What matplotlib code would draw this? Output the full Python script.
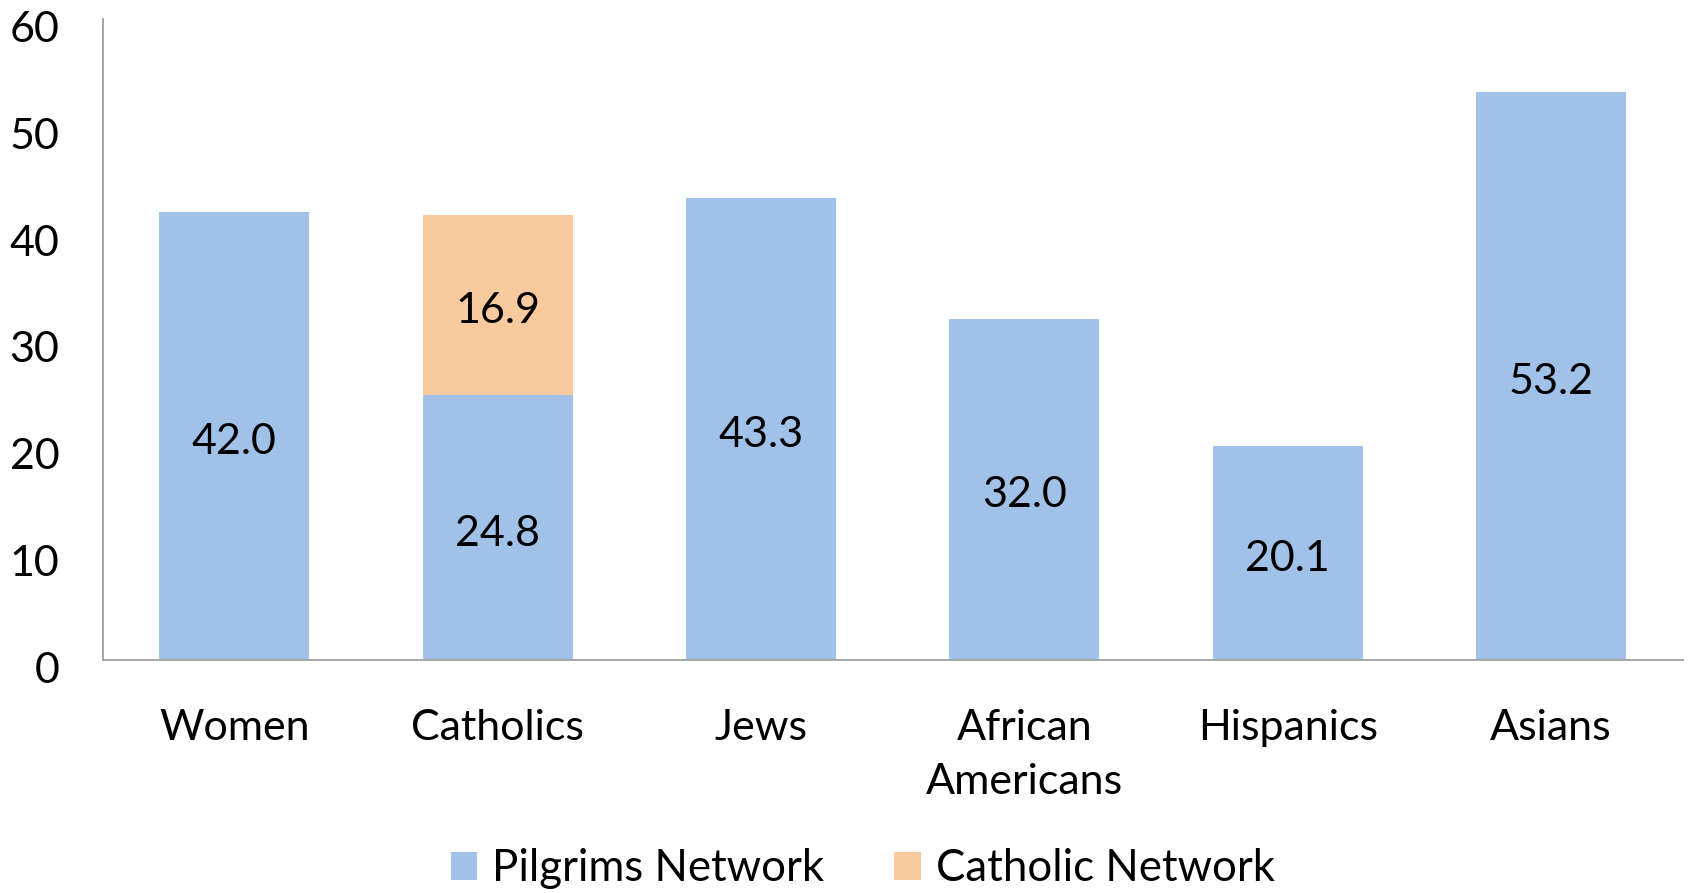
import matplotlib as mpl
import matplotlib.pyplot as plt
import matplotlib.transforms as mtransforms
import numpy as np

mpl.rcParams["font.family"] = ["Lato", "DejaVu Sans"]
mpl.rcParams["font.size"] = 31

groups = ["Women", "Catholics", "Jews", "African\nAmericans", "Hispanics", "Asians"]
pilgrims = [42.0, 24.8, 43.3, 32.0, 20.1, 53.2]
catholic = [0, 16.9, 0, 0, 0, 0]
series_names = ["Pilgrims Network", "Catholic Network"]

blue = "#A0C2E9"
orange = "#FACA9F"
axis_grey = "#A6A6A6"

fig = plt.figure(figsize=(16.92, 8.93), dpi=100)
ax = fig.add_axes([0.0606, 0.2604, 0.934, 0.7179])

x = np.arange(len(groups))
width = 0.57
b1 = ax.bar(x, pilgrims, width, color=blue, label=series_names[0], zorder=2)
b2 = ax.bar(x, catholic, width, bottom=pilgrims, color=orange, label=series_names[1], zorder=2)

# value labels in the middle of each segment, skip empty ones
for rect, v in zip(b1, pilgrims):
    if v > 0:
        ax.annotate(f"{v:.1f}", (rect.get_x() + rect.get_width() / 2, v / 2),
                    xytext=(0, -4), textcoords="offset points", ha="center", va="center")
for rect, v, base in zip(b2, catholic, pilgrims):
    if v > 0:
        ax.annotate(f"{v:.1f}", (rect.get_x() + rect.get_width() / 2, base + v / 2),
                    xytext=(0, -4), textcoords="offset points", ha="center", va="center")

ax.set_xlim(-0.5, len(groups) - 0.5)
ax.set_ylim(0, 60)
ax.set_yticks(np.arange(0, 61, 10))
ax.set_xticks(x)
ax.set_xticklabels(groups, linespacing=1.5)
ax.tick_params(axis="both", length=0)
ax.tick_params(axis="y", pad=31)
ax.tick_params(axis="x", pad=35)

# nudge the y tick labels down a bit
shift = mtransforms.ScaledTranslation(0, -5 / 72, fig.dpi_scale_trans)
for lbl in ax.get_yticklabels():
    lbl.set_transform(lbl.get_transform() + shift)

for s in ["top", "right"]:
    ax.spines[s].set_visible(False)
for s in ["left", "bottom"]:
    ax.spines[s].set_color(axis_grey)
    ax.spines[s].set_linewidth(1.4)

fig.legend(handles=[b1, b2], labels=series_names, loc="center", bbox_to_anchor=(0.51, 0.027),
           ncol=2, frameon=False, handlelength=0.6, handleheight=0.6,
           handletextpad=0.35, columnspacing=1.6, fontsize=31.5)

fig.savefig("out.png", dpi=100)
